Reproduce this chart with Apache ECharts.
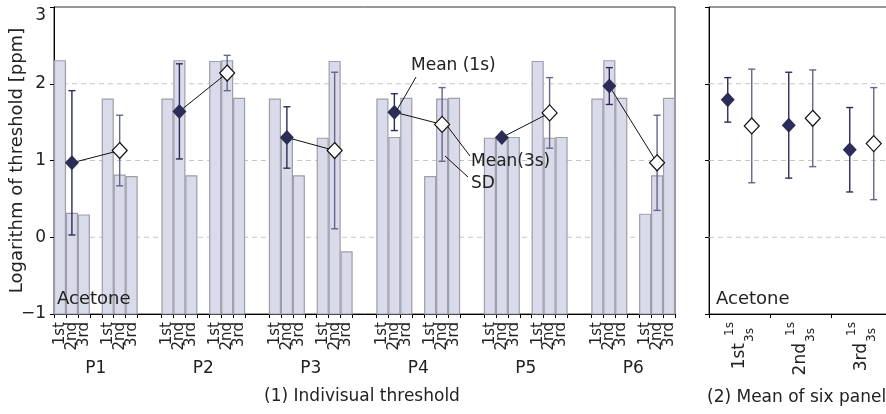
<!DOCTYPE html>
<html><head><meta charset="utf-8">
<script src="https://cdn.jsdelivr.net/npm/echarts@6/dist/echarts.min.js"></script>
<style>html,body{margin:0;padding:0;background:#fff}#c{width:886px;height:414px}</style>
</head><body><div id="c"></div>
<script>
// ---------------- data ----------------
const panelists = ['P1', 'P2', 'P3', 'P4', 'P5', 'P6'];
const trials = ['1st', '2nd', '3rd'];
const conditions = ['1s', '3s'];
// individual thresholds (log ppm), per panelist, trials 1st/2nd/3rd
const thr1s = [[2.30, 0.31, 0.29], [1.80, 2.30, 0.80], [1.80, 1.30, 0.80], [1.80, 1.30, 1.81], [1.29, 1.30, 1.30], [1.80, 2.30, 1.81]];
const thr3s = [[1.80, 0.81, 0.79], [2.29, 2.30, 1.81], [1.29, 2.29, -0.19], [0.79, 1.80, 1.81], [2.29, 1.29, 1.30], [0.30, 0.80, 1.81]];
const mean1s = [0.97, 1.64, 1.30, 1.63, 1.30, 1.97];
const sd1s = [0.94, 0.62, 0.40, 0.24, 0.00, 0.24];
const mean3s = [1.13, 2.14, 1.13, 1.47, 1.62, 0.97];
const sd3s = [0.46, 0.23, 1.02, 0.48, 0.46, 0.62];
// mean of six panelists, per trial
const avgMean1s = [1.79, 1.46, 1.14];
const avgSd1s = [0.29, 0.69, 0.55];
const avgMean3s = [1.45, 1.55, 1.22];
const avgSd3s = [0.74, 0.63, 0.73];
const yTicks = [-1, 0, 1, 2, 3];
const gridLines = [0, 1, 2];
const substance = 'Acetone';
const yTitle = 'Logarithm of threshold [ppm]';
const title1 = '(1) Indivisual threshold';
const title2 = '(2) Mean of six panels';
const noteMean1 = 'Mean (1s)';
const noteMean3 = 'Mean(3s)';
const noteSD = 'SD';

// ---------------- styles ----------------
const FONT = 'DejaVu Sans';
const INK = '#222';
const NAVY = '#2b2d57';
const NAVY3 = '#64668a';
const BAR_FILL = '#d9daea';
const BAR_EDGE = '#9d9ea8';
const yMin = yTicks[0], yMax = yTicks[yTicks.length - 1];

// ---------------- slots of the left panel ----------------
const slots = [];
const mid1 = [], mid3 = [];
panelists.forEach((p, pi) => {
  [thr1s, thr3s].forEach((arr, ci) => {
    if (ci === 1) slots.push({ gap: true, label: '', pLabel: p });
    arr[pi].forEach((v, ti) => {
      if (ti === 1) (ci === 0 ? mid1 : mid3).push(slots.length);
      slots.push({ gap: false, label: trials[ti], value: v });
    });
  });
  if (pi < panelists.length - 1) {
    slots.push({ gap: true, label: '' });
    slots.push({ gap: true, label: '' });
  }
});
const slotIds = slots.map((s, i) => 's' + i);
const barData = [];
slots.forEach((s, i) => { if (!s.gap) barData.push([i, s.value]); });

const rightIds = [];
trials.forEach(t => conditions.forEach(c => rightIds.push(t + '-' + c)));

// ---------------- render helpers ----------------
function renderBar(params, api) {
  const i = api.value(0), v = api.value(1);
  const top = api.coord([i, v]);
  const base = api.coord([i, yMin]);
  const w = api.size([1, 0])[0];
  return {
    type: 'rect',
    shape: { x: top[0] - w / 2 + 0.5, y: top[1], width: w - 1, height: base[1] - top[1] },
    style: { fill: BAR_FILL, stroke: BAR_EDGE, lineWidth: 1.2 }
  };
}
function renderGridLine(params, api) {
  const y = api.coord([0, api.value(1)])[1];
  const cs = params.coordSys;
  return {
    type: 'line',
    shape: { x1: cs.x, y1: y, x2: cs.x + cs.width, y2: y },
    style: { stroke: '#c6c6c6', lineWidth: 1, lineDash: [5, 4] }
  };
}
function makeErr(offsets) {
  return function (params, api) {
    const i = api.value(0), m = api.value(1), s = api.value(2), c = api.value(3);
    if (!(s > 0)) return null;
    const p = api.coord([i, m]);
    const hi = api.coord([i, m + s]), lo = api.coord([i, m - s]);
    const x = p[0] + offsets[c];
    const cap = 3.5;
    const st = { stroke: c === 0 ? NAVY : NAVY3, lineWidth: 1.4 };
    return {
      type: 'group', children: [
        { type: 'line', shape: { x1: x, y1: hi[1], x2: x, y2: lo[1] }, style: st },
        { type: 'line', shape: { x1: x - cap, y1: hi[1], x2: x + cap, y2: hi[1] }, style: st },
        { type: 'line', shape: { x1: x - cap, y1: lo[1], x2: x + cap, y2: lo[1] }, style: st }
      ]
    };
  };
}
function renderConnect(params, api) {
  const a = api.coord([api.value(0), api.value(1)]);
  const b = api.coord([api.value(2), api.value(3)]);
  return { type: 'line', shape: { x1: a[0], y1: a[1], x2: b[0], y2: b[1] }, style: { stroke: '#111', lineWidth: 1 } };
}

const errLeft = panelists.map((p, pi) => [mid1[pi], mean1s[pi], sd1s[pi], 0])
  .concat(panelists.map((p, pi) => [mid3[pi], mean3s[pi], sd3s[pi], 1]));
const errRight = trials.map((t, g) => [2 * g, avgMean1s[g], avgSd1s[g], 0])
  .concat(trials.map((t, g) => [2 * g + 1, avgMean3s[g], avgSd3s[g], 1]));
const RIGHT_OFF = [3.5, -3];

const txt = { fontFamily: FONT, color: INK };
const yAxisBase = {
  type: 'value', min: yMin, max: yMax, interval: 1,
  axisLine: { show: true, lineStyle: { color: '#000' } },
  axisTick: { show: true, length: 4, lineStyle: { color: '#000' } },
  splitLine: { show: false }
};

const chart = echarts.init(document.getElementById('c'));
chart.setOption({
  animation: false,
  backgroundColor: '#fff',
  grid: [
    { left: 54, top: 7, width: 621, height: 307, show: true, borderColor: '#333', borderWidth: 1, outerBoundsMode: 'none', containLabel: false },
    { left: 709, top: 7, width: 183, height: 307, show: true, borderColor: '#333', borderWidth: 1, outerBoundsMode: 'none', containLabel: false }
  ],
  xAxis: [
    {
      gridIndex: 0, type: 'category', data: slotIds, position: 'bottom',
      axisLine: { onZero: false, lineStyle: { color: '#000' } },
      axisTick: { show: true, length: 4, lineStyle: { color: '#000' },
        interval: (i) => !slots[i].gap || (i > 0 && !slots[i - 1].gap) },
      axisLabel: Object.assign({ interval: 0, rotate: 90, margin: 8, fontSize: 15, lineHeight: 15,
        formatter: (v, i) => slots[i].label }, txt),
      splitLine: { show: false }
    },
    {
      gridIndex: 0, type: 'category', data: slotIds, position: 'bottom',
      axisLine: { show: false, onZero: false }, axisTick: { show: false },
      axisLabel: Object.assign({ interval: 0, margin: 46, fontSize: 17,
        formatter: (v, i) => slots[i].pLabel || '' }, txt),
      splitLine: { show: false }
    },
    {
      gridIndex: 1, type: 'category', data: rightIds, position: 'bottom',
      axisLine: { show: false, onZero: false }, axisTick: { show: false },
      axisLabel: Object.assign({ interval: 0, rotate: 90, margin: 8, fontSize: 12,
        formatter: (v, i) => i % 2 === 0 ? '{a|' + conditions[0] + '}' : '',
        rich: { a: { fontSize: 12, fontFamily: FONT, color: INK, padding: [12, 0, 0, 0] } } }, txt),
      splitLine: { show: false }
    },
    {
      gridIndex: 1, type: 'category', data: rightIds, position: 'bottom',
      axisLine: { show: false, onZero: false }, axisTick: { show: false },
      axisLabel: Object.assign({ interval: 0, rotate: 90, margin: 14, fontSize: 12,
        formatter: (v, i) => i % 2 === 1 ? '{b|' + conditions[1] + '}' : '',
        rich: { b: { fontSize: 12, fontFamily: FONT, color: INK, padding: [0, 0, 10, 0] } } }, txt),
      splitLine: { show: false }
    },
    {
      gridIndex: 1, type: 'category', data: trials, position: 'bottom',
      axisLine: { onZero: false, lineStyle: { color: '#000' } },
      axisTick: { show: true, length: 4, lineStyle: { color: '#000' } },
      axisLabel: Object.assign({ interval: 0, rotate: 90, margin: 29, fontSize: 17 }, txt),
      splitLine: { show: false }
    }
  ],
  yAxis: [
    Object.assign({}, yAxisBase, {
      gridIndex: 0,
      axisLabel: Object.assign({ fontSize: 17, margin: 8, verticalAlignMaxLabel: 'top',
        formatter: v => String(v).replace('-', '\u2212') }, txt),
      name: yTitle, nameLocation: 'middle', nameGap: 28, nameMoveOverlap: false,
      nameTextStyle: { fontSize: 18, fontFamily: FONT, color: INK }
    }),
    Object.assign({}, yAxisBase, { gridIndex: 1, axisLabel: { show: false } })
  ],
  series: [
    { type: 'custom', xAxisIndex: 0, yAxisIndex: 0, z: 1, silent: true, renderItem: renderGridLine,
      encode: { x: 0, y: 1 }, data: gridLines.map(v => [0, v]) },
    { type: 'custom', xAxisIndex: 2, yAxisIndex: 1, z: 1, silent: true, renderItem: renderGridLine,
      encode: { x: 0, y: 1 }, data: gridLines.map(v => [0, v]) },
    { type: 'custom', name: 'threshold', xAxisIndex: 0, yAxisIndex: 0, z: 2, renderItem: renderBar,
      encode: { x: 0, y: 1 }, data: barData },
    { type: 'custom', name: 'SD', xAxisIndex: 0, yAxisIndex: 0, z: 3, renderItem: makeErr([0, 0]),
      encode: { x: 0, y: 1 }, data: errLeft },
    { type: 'custom', name: 'link', xAxisIndex: 0, yAxisIndex: 0, z: 4, renderItem: renderConnect,
      encode: { x: [0, 2], y: [1, 3] },
      data: panelists.map((p, pi) => [mid1[pi], mean1s[pi], mid3[pi], mean3s[pi]]) },
    { type: 'scatter', name: noteMean1, xAxisIndex: 0, yAxisIndex: 0, z: 5, symbol: 'diamond', symbolSize: [14, 15],
      itemStyle: { color: NAVY, opacity: 1 }, data: panelists.map((p, pi) => [mid1[pi], mean1s[pi]]) },
    { type: 'scatter', name: noteMean3, xAxisIndex: 0, yAxisIndex: 0, z: 5, symbol: 'diamond', symbolSize: [15, 16],
      itemStyle: { color: '#fff', borderColor: '#111', borderWidth: 1.2, opacity: 1 },
      data: panelists.map((p, pi) => [mid3[pi], mean3s[pi]]) },
    { type: 'custom', name: 'SD avg', xAxisIndex: 2, yAxisIndex: 1, z: 3, renderItem: makeErr(RIGHT_OFF),
      encode: { x: 0, y: 1 }, data: errRight },
    { type: 'scatter', name: 'avg 1s', xAxisIndex: 2, yAxisIndex: 1, z: 5, symbol: 'diamond', symbolSize: [14, 15],
      symbolOffset: [RIGHT_OFF[0], 0], itemStyle: { color: NAVY, opacity: 1 },
      data: trials.map((t, g) => [2 * g, avgMean1s[g]]) },
    { type: 'scatter', name: 'avg 3s', xAxisIndex: 2, yAxisIndex: 1, z: 5, symbol: 'diamond', symbolSize: [15, 16],
      symbolOffset: [RIGHT_OFF[1], 0], itemStyle: { color: '#fff', borderColor: '#111', borderWidth: 1.2, opacity: 1 },
      data: trials.map((t, g) => [2 * g + 1, avgMean3s[g]]) }
  ],
  graphic: [
    { type: 'text', x: 57, y: 299, z: 10, style: { text: substance, font: '18px ' + FONT, fill: INK, textVerticalAlign: 'middle', verticalAlign: 'middle' } },
    { type: 'text', x: 716, y: 299, z: 10, style: { text: substance, font: '18px ' + FONT, fill: INK, textVerticalAlign: 'middle', verticalAlign: 'middle' } },
    { type: 'text', x: 362, y: 397, z: 10, style: { text: title1, font: '17px ' + FONT, fill: INK, textAlign: 'center', align: 'center', textVerticalAlign: 'middle', verticalAlign: 'middle' } },
    { type: 'text', x: 707, y: 398, z: 10, style: { text: title2, font: '17px ' + FONT, fill: INK, textVerticalAlign: 'middle', verticalAlign: 'middle' } },
    { type: 'text', x: 411, y: 66, z: 10, style: { text: noteMean1, font: '17px ' + FONT, fill: INK, textVerticalAlign: 'middle', verticalAlign: 'middle' } },
    { type: 'text', x: 471, y: 162, z: 10, style: { text: noteMean3, font: '17px ' + FONT, fill: INK, textVerticalAlign: 'middle', verticalAlign: 'middle' } },
    { type: 'text', x: 471, y: 184, z: 10, style: { text: noteSD, font: '17px ' + FONT, fill: INK, textVerticalAlign: 'middle', verticalAlign: 'middle' } },
    { type: 'line', z: 10, shape: { x1: 416, y1: 77, x2: 397, y2: 110 }, style: { stroke: '#111', lineWidth: 1 } },
    { type: 'line', z: 10, shape: { x1: 470, y1: 156, x2: 448, y2: 127 }, style: { stroke: '#111', lineWidth: 1 } },
    { type: 'line', z: 10, shape: { x1: 468, y1: 177, x2: 445, y2: 156 }, style: { stroke: '#111', lineWidth: 1 } }
  ]
});
</script>
</body></html>
